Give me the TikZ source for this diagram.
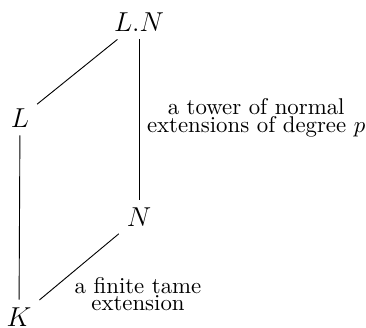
\documentclass[tikz,border=0pt]{standalone}

\begin{document}
\begin{tikzpicture}[x=0.4386pt,y=-0.4386pt,
  field/.style={font=\large},
  lbl/.style={font=\fontsize{10}{5}\selectfont,align=center}]
\useasboundingbox (0,0) rectangle (366,328);

% The four fields, top to bottom.
\node[field] (LN) at (139,22) {$L.N$};
\node[field] (L) at (20,118) {$L$};
\node[field] (N) at (139,217) {$N$};
\node[field] (K) at (19,317) {$K$};

% Left side: L.N over L over K.
\draw (LN) -- (L);
\draw (L) -- (K);

% Right side, the tower over N and the tame part over K.
\draw (LN) -- node[lbl,right,pos=0.49] (tower) {a tower of normal\\extensions of degree $p$} (N);
\draw (N) -- (K);
\node[lbl] (tame) at (138,294) {a finite tame\\extension};

\end{tikzpicture}
\end{document}
